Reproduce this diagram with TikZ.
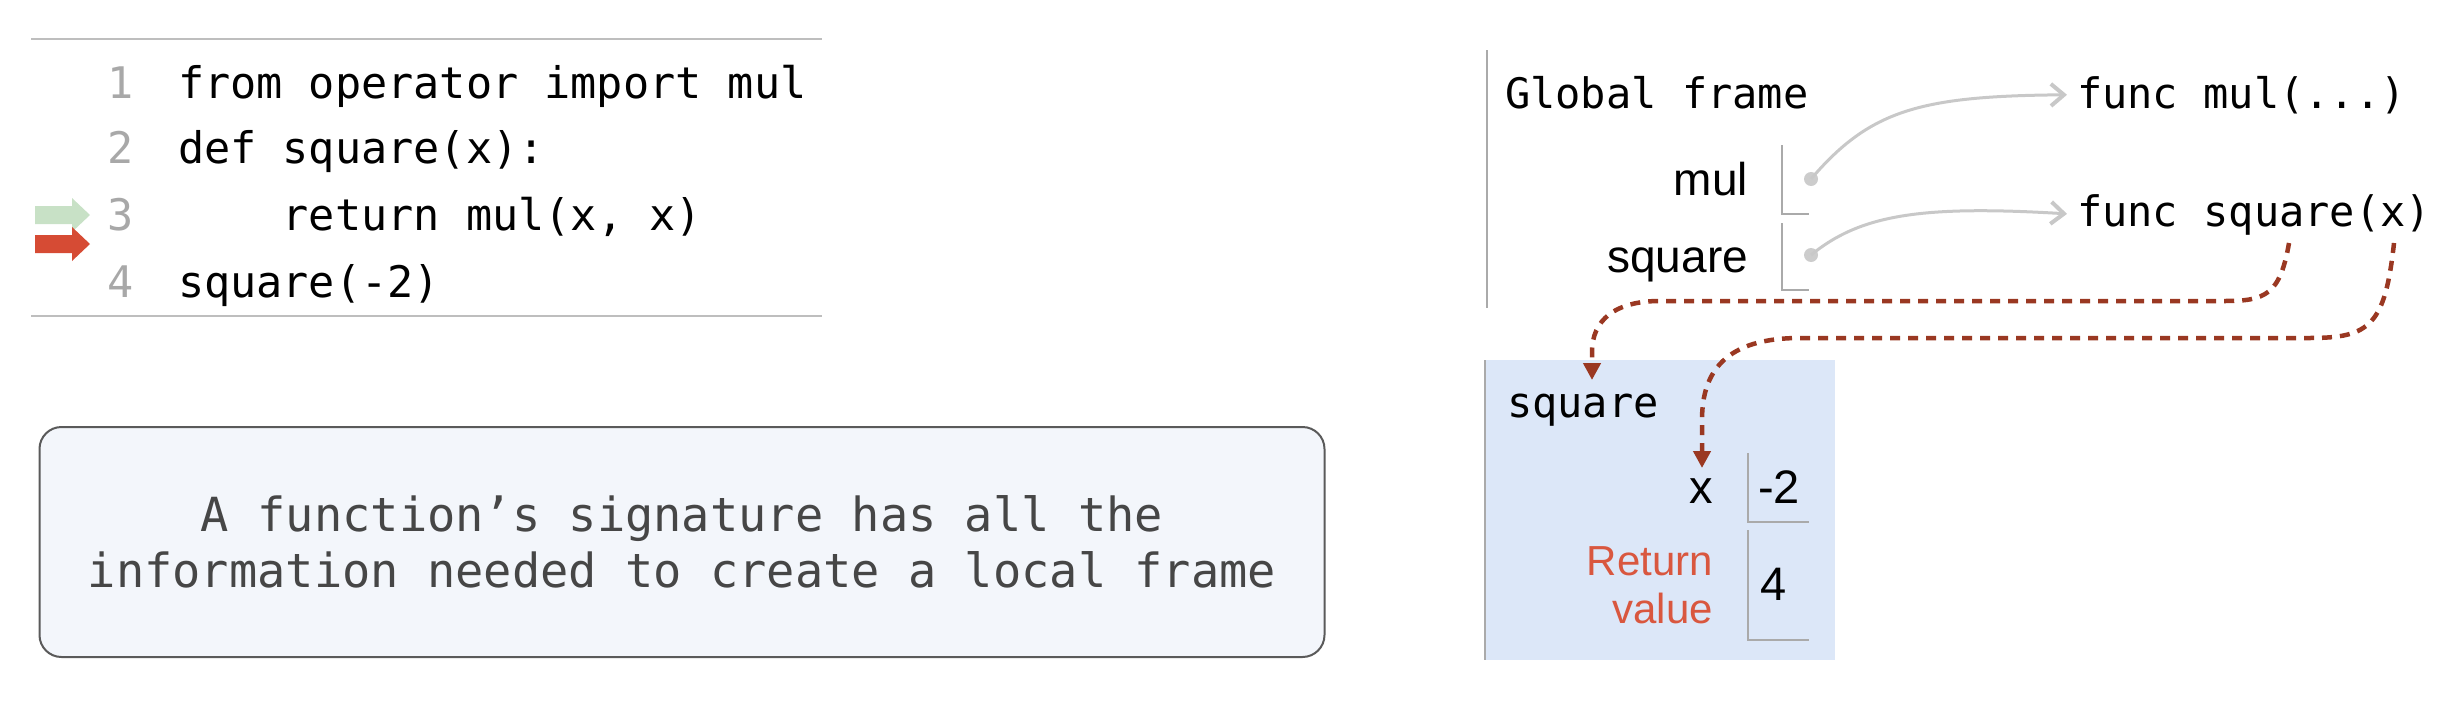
\documentclass[tikz,border=0pt]{standalone}
\usepackage{fontspec}
\usetikzlibrary{arrows.meta}
\newfontfamily\monof{DejaVu Sans Mono}
\newfontfamily\sansf{Liberation Sans}
\definecolor{numgrey}{RGB}{168,168,168}
\definecolor{rulegrey}{RGB}{190,190,190}
\definecolor{cellgrey}{RGB}{170,170,170}
\definecolor{ptrgrey}{RGB}{200,200,200}
\definecolor{dotgrey}{RGB}{204,204,204}
\definecolor{linkred}{RGB}{154,56,34}
\definecolor{retred}{RGB}{217,87,63}
\definecolor{framebg}{RGB}{220,231,248}
\definecolor{notebg}{RGB}{243,246,251}
\definecolor{noteedge}{RGB}{90,90,90}
\definecolor{notetext}{RGB}{70,70,70}
\definecolor{arrgreen}{RGB}{200,225,198}
\definecolor{arrred}{RGB}{214,75,52}
\begin{document}
\begin{tikzpicture}[x=1pt,y=-1pt,
  every node/.style={inner sep=0pt, outer sep=0pt},
  codenum/.style={font=\monof\fontsize{43.5}{50}\selectfont, text=numgrey, anchor=base east},
  codeline/.style={font=\monof\fontsize{43.5}{50}\selectfont, anchor=base west},
  monolbl/.style={font=\monof\fontsize{42}{48}\selectfont, anchor=base west},
  varlbl/.style={font=\sansf\fontsize{46}{52}\selectfont, anchor=base east},
  vallbl/.style={font=\sansf\fontsize{47}{52}\selectfont, anchor=base west},
  retlbl/.style={font=\sansf\fontsize{42}{48}\selectfont, text=retred, anchor=base east},
  rule/.style={draw=rulegrey, line width=2.5pt},
  cellline/.style={draw=cellgrey, line width=2pt},
  ptr/.style={draw=ptrgrey, line width=3pt, -{Straight Barb[length=13pt,width=22pt,line width=4pt]}},
  link/.style={draw=linkred, line width=4.5pt, dash pattern=on 10pt off 8pt, -{Triangle[length=17pt,width=17pt]}},
  dot/.style={circle, fill=dotgrey, minimum size=14pt},
  notebox/.style={draw=noteedge, line width=2pt, fill=notebg, rounded corners=22pt,
    minimum width=1285pt, minimum height=230pt, align=center, text=notetext,
    font=\monof\fontsize{47}{56}\selectfont}
]
\useasboundingbox (0,0) rectangle (2446,712);

% ---------- code panel ----------
\draw[rule] (31,39) -- (822,39);
\draw[rule] (31,316) -- (822,316);
\node[codenum] (n1) at (134,98) {1};
\node[codenum] (n2) at (134,163) {2};
\node[codenum] (n3) at (134,230) {3};
\node[codenum] (n4) at (134,297) {4};
\node[codeline] (c1) at (178,98) {from operator import mul};
\node[codeline] (c2) at (178,163) {def square(x):};
\node[codeline] (c3) at (178,230) {\hphantom{0000}return mul(x, x)};
\node[codeline] (c4) at (178,297) {square(-2)};
% line arrows
\fill[arrgreen] (35,206) -- (72,206) -- (72,198) -- (90,215) -- (72,232) -- (72,224) -- (35,224) -- cycle;
\fill[arrred] (35,235) -- (72,235) -- (72,227) -- (90,244) -- (72,261) -- (72,253) -- (35,253) -- cycle;

% ---------- note ----------
\node[notebox] (note) at (682,542) {A function’s signature has all the\\information needed to create a local frame};

% ---------- global frame ----------
\draw[cellline] (1487,50) -- (1487,308);
\node[monolbl] (gf) at (1505,108) {Global frame};
\node[monolbl] (fmul) at (2077,108) {func mul(...)};
\node[monolbl] (fsq) at (2077,226) {func square(x)};
\node[varlbl] (vmul) at (1748,195) {mul};
\node[varlbl] (vsq) at (1748,272) {square};
\draw[cellline] (1782,145) -- (1782,214) -- (1809,214);
\draw[cellline] (1782,223) -- (1782,290) -- (1809,290);
\node[dot] (mdot) at (1811,179) {};
\node[dot] (sdot) at (1811,255) {};
\draw[ptr, shorten >=10pt] (mdot.center) .. controls (1870,110) and (1920,96) .. (fmul.west);
\draw[ptr, shorten >=10pt] (sdot.center) .. controls (1860,215) and (1920,205) .. (fsq.west);

% ---------- local frame ----------
\fill[framebg] (1485,360) rectangle (1835,660);
\draw[cellline] (1485,360) -- (1485,660);
\node[monolbl] (lf) at (1507,417) {square};
\node[varlbl, font=\sansf\fontsize{47}{52}\selectfont] (vx) at (1713,503) {x};
\draw[cellline] (1748,453) -- (1748,522) -- (1809,522);
\draw[cellline] (1748,530) -- (1748,640) -- (1809,640);
\node[vallbl] (valx) at (1758,503) {-2};
\node[vallbl] (valr) at (1760,600) {4};
\node[retlbl] (ret1) at (1713,575) {Return};
\node[retlbl] (ret2) at (1713,623) {value};

% ---------- dashed links ----------
\coordinate (s1) at (2289,243);
\coordinate (t1) at (1592,380);
\coordinate (s2) at (2394,243);
\coordinate (t2) at (1702,468);
\draw[link] (s1) .. controls (2280,295) and (2265,301) .. (2225,301) -- (1660,301)
  .. controls (1615,301) and (1592,320) .. (1592,352) -- (t1);
\draw[link] (s2) .. controls (2385,325) and (2370,338) .. (2310,338) -- (1800,338)
  .. controls (1725,338) and (1702,372) .. (1702,420) -- (t2);
\end{tikzpicture}
\end{document}
